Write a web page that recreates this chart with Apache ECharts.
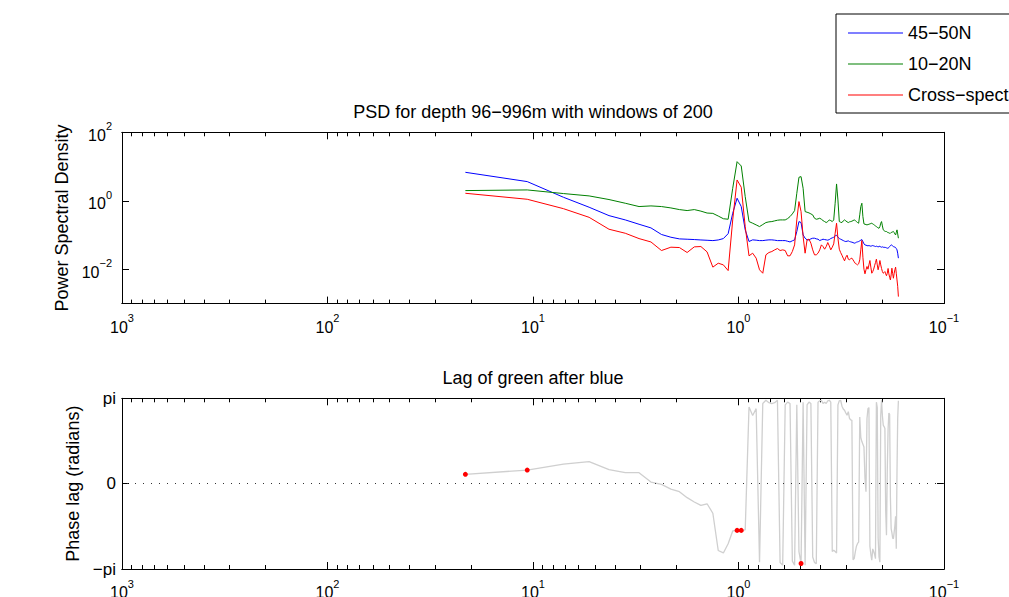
<!DOCTYPE html>
<html><head><meta charset="utf-8">
<script src="https://cdn.jsdelivr.net/npm/echarts@6/dist/echarts.min.js"></script>
<style>html,body{margin:0;padding:0;background:#fff}#c{width:1009px;height:597px}</style>
</head><body><div id="c"></div>
<script>
// Period (years) of each spectral estimate
const periods = [21.333,10.667,7.111,5.333,4.267,3.556,3.048,2.667,2.370,2.133,
1.939,1.778,1.641,1.524,1.422,1.333,1.255,1.185,1.123,1.067,
1.016,0.9697,0.9275,0.8889,0.8533,0.8205,0.7901,0.7619,0.7356,0.7111,
0.6882,0.6667,0.6465,0.6275,0.6095,0.5926,0.5766,0.5614,0.5470,0.5333,
0.5203,0.5079,0.4961,0.4848,0.4741,0.4638,0.4539,0.4444,0.4354,0.4267,
0.4183,0.4103,0.4025,0.3951,0.3879,0.3810,0.3743,0.3678,0.3616,0.3556,
0.3497,0.3441,0.3386,0.3333,0.3282,0.3232,0.3184,0.3137,0.3092,0.3048,
0.3005,0.2963,0.2922,0.2883,0.2844,0.2807,0.2771,0.2735,0.2700,0.2667,
0.2634,0.2602,0.2570,0.2540,0.2510,0.2481,0.2452,0.2424,0.2397,0.2370,
0.2344,0.2319,0.2294,0.2270,0.2246,0.2222,0.2199,0.2177,0.2155,0.2133,
0.2112,0.2092,0.2071,0.2051,0.2032,0.2013,0.1994,0.1975,0.1957,0.1939,
0.1922,0.1905,0.1888,0.1871,0.1855,0.1839,0.1823,0.1808,0.1793,0.1778,
0.1763,0.1749,0.1734,0.1720,0.1707,0.1693,0.1680,0.1667];

// 45-50N PSD (blue)
const psd45 = [6.8,3.64,1.27,0.65,0.37,0.277,0.207,0.162,0.104,0.0865,
0.0774,0.0757,0.074,0.072,0.0705,0.069,0.072,0.079,0.11,0.434,
1.19,0.68,0.142,0.065,0.0725,0.071,0.069,0.069,0.071,0.0725,
0.0725,0.071,0.069,0.069,0.069,0.069,0.066,0.063,0.068,0.0725,
0.127,0.248,0.232,0.101,0.081,0.0725,0.0725,0.0775,0.081,0.081,
0.0775,0.0758,0.0693,0.0725,0.0758,0.074,0.0725,0.071,0.074,0.0793,
0.083,0.0867,0.0948,0.099,0.0867,0.0793,0.0758,0.0725,0.0693,0.0663,
0.0648,0.0663,0.0678,0.0648,0.0634,0.062,0.0606,0.058,0.0593,0.062,
0.0634,0.0648,0.0678,0.071,0.074,0.0648,0.0554,0.0518,0.0506,0.0495,
0.0484,0.0495,0.0484,0.0474,0.0484,0.0495,0.0484,0.0474,0.0463,0.0474,
0.0463,0.0453,0.0463,0.0474,0.0453,0.0443,0.0453,0.0443,0.0433,0.0443,
0.0433,0.0424,0.0414,0.0414,0.0433,0.0463,0.0495,0.0518,0.0506,0.0484,
0.0463,0.0443,0.0453,0.0433,0.0405,0.037,0.0296,0.0212];

// 10-20N PSD (green)
const psd10 = [1.99,2.08,1.63,1.39,1.09,0.85,0.68,0.71,0.68,0.62,
0.555,0.52,0.555,0.50,0.44,0.43,0.36,0.30,0.29,2.32,
13.9,10.4,1.33,0.248,0.222,0.198,0.177,0.203,0.232,0.243,
0.248,0.26,0.271,0.277,0.277,0.277,0.303,0.347,0.415,0.519,
1.66,4.86,5.09,2.32,0.485,0.464,0.444,0.415,0.388,0.31,
0.29,0.297,0.31,0.29,0.265,0.248,0.232,0.248,0.277,0.265,
0.248,0.277,0.85,3.11,1.06,0.248,0.237,0.232,0.26,0.277,
0.26,0.243,0.232,0.243,0.248,0.254,0.265,0.277,0.265,0.248,
0.232,0.222,0.39,0.68,0.85,0.347,0.212,0.207,0.203,0.198,
0.203,0.207,0.212,0.217,0.222,0.212,0.203,0.194,0.185,0.177,
0.169,0.162,0.158,0.177,0.222,0.248,0.185,0.142,0.135,0.13,
0.127,0.127,0.121,0.119,0.116,0.113,0.113,0.119,0.121,0.124,
0.127,0.119,0.108,0.101,0.119,0.142,0.108,0.081];

// Cross-spectrum (red)
const cross = [1.66,1.11,0.59,0.33,0.148,0.113,0.079,0.063,0.0354,0.0443,
0.0433,0.031,0.0453,0.0463,0.0323,0.0116,0.0151,0.0135,0.0092,0.277,
4.06,2.49,0.177,0.0248,0.0296,0.0212,0.0097,0.0077,0.0265,0.031,
0.0331,0.037,0.0405,0.0354,0.037,0.0354,0.0248,0.0248,0.0331,0.0518,
0.277,0.95,0.485,0.0906,0.0296,0.0725,0.076,0.058,0.037,0.0265,
0.0265,0.0296,0.037,0.0518,0.0463,0.0387,0.0463,0.0606,0.0484,0.037,
0.0443,0.0554,0.113,0.222,0.081,0.0387,0.031,0.0259,0.0212,0.0177,
0.0226,0.0259,0.0198,0.0189,0.0207,0.0212,0.0189,0.0166,0.0148,0.0142,
0.0135,0.0145,0.0189,0.037,0.0693,0.0226,0.0101,0.0074,0.0097,0.0121,
0.0101,0.0135,0.0181,0.0116,0.0077,0.0086,0.0101,0.0127,0.0158,0.0198,
0.0135,0.0097,0.0127,0.0181,0.0135,0.0106,0.0086,0.0077,0.0081,0.0086,
0.0074,0.0065,0.0077,0.0106,0.0074,0.0059,0.0049,0.0069,0.0108,0.0077,
0.0055,0.0074,0.0097,0.0116,0.0077,0.0049,0.0032,0.0016];

// Phase lag of green after blue (radians)
const phase = [0.343,0.50,0.72,0.81,0.515,0.405,0.405,0.059,-0.026,-0.20,
-0.295,-0.516,-0.676,-0.80,-0.74,-1.09,-2.46,-2.55,-2.21,-1.74,
-1.72,-1.72,-1.70,2.82,2.51,2.76,-2.89,2.95,3.07,2.98,
2.95,2.98,3.07,-2.9,-3.0,2.9,3.0,2.95,-2.85,-3.0,
2.9,-2.5,-2.94,3.0,-3.0,2.9,3.0,2.95,-2.7,-2.9,
-2.95,3.0,3.05,3.07,2.95,3.0,2.95,3.05,3.07,3.0,
-2.5,-2.45,-2.5,-2.55,2.9,3.05,3.07,2.85,2.75,2.7,
2.6,2.52,2.65,2.4,2.35,2.33,-2.8,-2.76,-2.5,-2.3,
-2.2,-2.15,2.45,1.7,1.55,1.45,1.35,0.2,-0.3,2.4,
2.76,2.8,-2.3,-2.6,-2.82,-2.4,-2.5,-2.6,-2.76,3.0,
2.8,-2.0,-2.7,-2.89,2.5,3.07,2.5,2.15,2.1,2.03,
-1.0,-1.9,0.5,2.0,2.6,2.55,-0.5,-1.66,-1.8,-2.0,
-2.03,-1.8,-1.55,-1.2,-2.4,0.5,2.4,3.05];

// Indices of the estimates marked with red dots
const sigIdx = [0, 1, 20, 21, 42];

const seriesNames = ['45\u221250N', '10\u221220N', 'Cross\u2212spectrum'];
const seriesColors = ['#0000ff', '#008000', '#ff0000'];
const titleTop = 'PSD for depth 96\u2212996m with windows of 200';
const titleBottom = 'Lag of green after blue';
const yNameTop = 'Power Spectral Density';
const yNameBottom = 'Phase lag (radians)';

const xMajor = [1000, 100, 10, 1, 0.1];
const xMinor = [900,800,700,600,500,400,300,200, 90,80,70,60,50,40,30,20,
                9,8,7,6,5,4,3,2, 0.9,0.8,0.7,0.6,0.5,0.4,0.3,0.2];
const yMajorTop = [100, 1, 0.01];
const yPhaseTicks = [-Math.PI, 0, Math.PI];

const FONT = "'Liberation Sans', Arial, Helvetica, sans-serif";
const RICH = {
  b: {fontSize: 16, fontFamily: FONT, color: '#000', padding: [6, 0, 0, 0]},
  s: {fontSize: 11, fontFamily: FONT, color: '#000', padding: [0, 0, 12, 0]}
};
function supLabel(v) {
  const e = Math.round(Math.log10(v));
  return '{b|10}{s|' + String(e).replace('-', '\u2212') + '}';
}
const LINE = {show: true, onZero: false, lineStyle: {color: '#000', width: 1}};

function xa(grid, pos, values, len, labels) {
  return {
    type: 'log', logBase: 10, min: 0.1, max: 1000, inverse: true,
    gridIndex: grid, position: pos,
    axisLine: LINE,
    axisTick: {show: true, inside: true, length: len, customValues: values,
               lineStyle: {color: '#000', width: 1}},
    axisLabel: labels ? {show: true, customValues: values, formatter: supLabel,
                         margin: 9, color: '#000', fontFamily: FONT, rich: RICH}
                      : {show: false},
    splitLine: {show: false}, minorTick: {show: false}, minorSplitLine: {show: false}
  };
}

const chart = echarts.init(document.getElementById('c'), null, {renderer: 'svg'});
const option = {
  animation: false,
  backgroundColor: '#fff',
  textStyle: {fontFamily: FONT},
  title: [
    {text: titleTop, left: 533, top: 103, textAlign: 'center', padding: 0,
     textStyle: {fontSize: 18, fontWeight: 'normal', color: '#000', fontFamily: FONT}},
    {text: titleBottom, left: 533, top: 369, textAlign: 'center', padding: 0,
     textStyle: {fontSize: 18, fontWeight: 'normal', color: '#000', fontFamily: FONT}}
  ],
  legend: {
    data: seriesNames.map((n, i) => ({name: n, icon: 'rect', itemStyle: {color: seriesColors[i]}})),
    orient: 'vertical', left: 836, top: 14,
    itemWidth: 55, itemHeight: 1, itemGap: 13,
    padding: [10, 60, 9, 12], borderColor: '#000', borderWidth: 1, borderRadius: 0,
    backgroundColor: '#fff', selectedMode: false,
    textStyle: {fontSize: 18, color: '#000', fontFamily: FONT, lineHeight: 18}
  },
  grid: [
    {left: 122, right: 65, top: 132.3, height: 171.3, containLabel: false, outerBoundsMode: 'none'},
    {left: 122, right: 65, top: 398.3, height: 170.7, containLabel: false, outerBoundsMode: 'none'}
  ],
  xAxis: [
    xa(0, 'bottom', xMajor, 7, true),
    xa(0, 'bottom', xMinor, 4, false),
    xa(0, 'top', xMajor, 7, false),
    xa(0, 'top', xMinor, 4, false),
    xa(1, 'bottom', xMajor, 7, true),
    xa(1, 'bottom', xMinor, 4, false),
    xa(1, 'top', xMajor, 7, false),
    xa(1, 'top', xMinor, 4, false)
  ],
  yAxis: [
    {type: 'log', logBase: 10, min: 0.001, max: 100, gridIndex: 0, position: 'left',
     name: yNameTop, nameLocation: 'middle', nameGap: 49,
     nameTextStyle: {fontSize: 18, color: '#000', fontFamily: FONT},
     axisLine: LINE,
     axisTick: {show: true, inside: true, length: 7, customValues: yMajorTop, lineStyle: {color: '#000'}},
     axisLabel: {show: true, customValues: yMajorTop, formatter: supLabel, margin: 10, rich: RICH},
     splitLine: {show: false}, minorTick: {show: false}},
    {type: 'log', logBase: 10, min: 0.001, max: 100, gridIndex: 0, position: 'right',
     axisLine: LINE,
     axisTick: {show: true, inside: true, length: 7, customValues: yMajorTop, lineStyle: {color: '#000'}},
     axisLabel: {show: false}, splitLine: {show: false}, minorTick: {show: false}},
    {type: 'value', min: -Math.PI, max: Math.PI, gridIndex: 1, position: 'left',
     name: yNameBottom, nameLocation: 'middle', nameGap: 39,
     nameTextStyle: {fontSize: 18, color: '#000', fontFamily: FONT},
     axisLine: LINE,
     axisTick: {show: true, inside: true, length: 7, customValues: yPhaseTicks, lineStyle: {color: '#000'}},
     axisLabel: {show: true, customValues: yPhaseTicks, margin: 6, fontSize: 17, color: '#000', fontFamily: FONT,
       formatter: v => Math.abs(v) < 1e-9 ? '0' : (v > 0 ? 'pi' : '\u2212pi')},
     splitLine: {show: false}},
    {type: 'value', min: -Math.PI, max: Math.PI, gridIndex: 1, position: 'right',
     axisLine: LINE,
     axisTick: {show: true, inside: true, length: 7, customValues: yPhaseTicks, lineStyle: {color: '#000'}},
     axisLabel: {show: false}, splitLine: {show: false}}
  ],
  series: [
    {name: seriesNames[0], type: 'line', xAxisIndex: 0, yAxisIndex: 0, symbol: 'none', showSymbol: false,
     data: periods.map((p, i) => [p, psd45[i]]), color: seriesColors[0],
     lineStyle: {color: seriesColors[0], width: 1}},
    {name: seriesNames[1], type: 'line', xAxisIndex: 0, yAxisIndex: 0, symbol: 'none', showSymbol: false,
     data: periods.map((p, i) => [p, psd10[i]]), color: seriesColors[1],
     lineStyle: {color: seriesColors[1], width: 1}},
    {name: seriesNames[2], type: 'line', xAxisIndex: 0, yAxisIndex: 0, symbol: 'none', showSymbol: false,
     data: periods.map((p, i) => [p, cross[i]]), color: seriesColors[2],
     lineStyle: {color: seriesColors[2], width: 1}},
    {name: 'phase', type: 'line', xAxisIndex: 4, yAxisIndex: 2, symbol: 'none',
     data: periods.map((p, i) => [p, phase[i]]), color: '#cfcfcf',
     lineStyle: {color: '#cfcfcf', width: 1.3},
     markLine: {silent: true, symbol: ['none', 'none'], label: {show: false},
       lineStyle: {type: [1, 7], color: '#333', width: 1}, data: [{yAxis: 0}]}},
    {name: 'coherent', type: 'scatter', xAxisIndex: 4, yAxisIndex: 2, symbolSize: 5, z: 5,
     data: sigIdx.map(i => [periods[i], phase[i]]),
     itemStyle: {color: '#ff0000', opacity: 1, borderWidth: 0}}
  ]
};
chart.setOption(option);
</script></body></html>
